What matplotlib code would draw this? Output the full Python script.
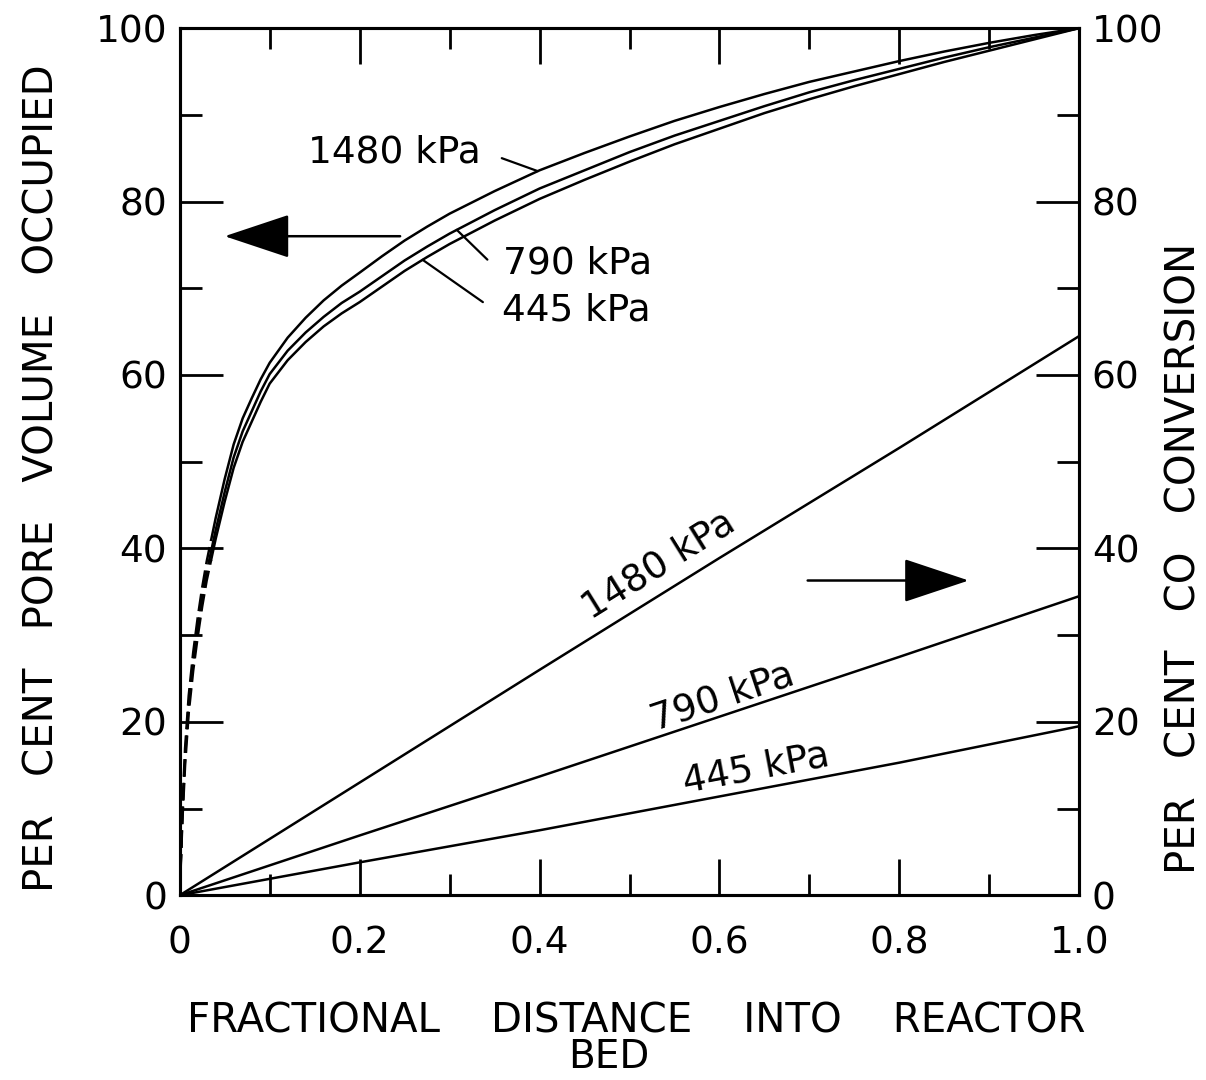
import numpy as np
import matplotlib
matplotlib.use("Agg")
import matplotlib.pyplot as plt
from matplotlib.ticker import MultipleLocator

# ---------------- data ----------------
x_pore = [0, 0.003, 0.006, 0.01, 0.015, 0.02, 0.025, 0.03, 0.035, 0.04,
          0.05, 0.06, 0.07, 0.08, 0.09, 0.1, 0.12, 0.14, 0.16, 0.18, 0.2,
          0.225, 0.25, 0.275, 0.3, 0.35, 0.4, 0.45, 0.5, 0.55, 0.6, 0.65,
          0.7, 0.75, 0.8, 0.85, 0.9, 0.95, 1.0]
pore_1480 = [0, 10, 17, 23, 28, 32, 35.5, 38.5, 41, 43.5,
             48, 52, 55, 57.3, 59.5, 61.4, 64.3, 66.6, 68.6, 70.3, 71.8,
             73.7, 75.5, 77.1, 78.6, 81.2, 83.6, 85.6, 87.5, 89.3, 90.9, 92.4,
             93.8, 95.0, 96.2, 97.3, 98.3, 99.2, 100]
pore_790 = [0, 9.3, 16, 22, 26.9, 30.8, 34.3, 37.3, 39.7, 42.1,
            46.5, 50.5, 53.5, 55.8, 58.1, 60.1, 62.8, 64.9, 66.7, 68.3, 69.6,
            71.4, 73.2, 74.8, 76.3, 79.0, 81.5, 83.6, 85.7, 87.6, 89.3, 91.0,
            92.6, 94.0, 95.3, 96.6, 97.8, 98.9, 100]
pore_445 = [0, 8.6, 15, 21, 25.9, 29.8, 33.3, 36.3, 38.7, 41.1,
            45.4, 49.3, 52.3, 54.6, 56.9, 59.0, 61.7, 63.8, 65.6, 67.1, 68.4,
            70.2, 72.0, 73.6, 75.1, 77.8, 80.3, 82.5, 84.6, 86.6, 88.4, 90.2,
            91.8, 93.3, 94.7, 96.1, 97.4, 98.7, 100]

x_conv = [0, 0.2, 0.4, 0.6, 0.8, 1.0]
conv_1480 = [0, 13.0, 26.0, 38.9, 51.6, 64.5]
conv_790 = [0, 6.9, 13.7, 20.6, 27.5, 34.5]
conv_445 = [0, 3.8, 7.5, 11.4, 15.3, 19.5]

pressures = ["1480 kPa", "790 kPa", "445 kPa"]

x_ticks = [0, 0.2, 0.4, 0.6, 0.8, 1.0]
x_ticklabels = ["0", "0.2", "0.4", "0.6", "0.8", "1.0"]
y_ticks = [0, 20, 40, 60, 80, 100]
y_ticklabels = ["0", "20", "40", "60", "80", "100"]

left_label = "PER   CENT   PORE   VOLUME   OCCUPIED"
right_label = "PER   CENT   CO   CONVERSION"
x_label_line1 = "FRACTIONAL    DISTANCE    INTO    REACTOR"
x_label_line2 = "BED"

# ---------------- figure ----------------
plt.rcParams['font.family'] = ['DejaVu Sans']
fig = plt.figure(figsize=(12.06, 10.8), dpi=100)
ax = fig.add_axes([0.149, 0.171, 0.746, 0.803])
ax2 = ax.twinx()

LW = 1.8
TICK_FS = 27
for a in (ax, ax2):
    a.set_xlim(0, 1.0)
    a.set_ylim(0, 100)
    for s in a.spines.values():
        s.set_linewidth(2.2)

# pore volume curves: dashed near origin, solid beyond
split = 8
for ys in (pore_1480, pore_790, pore_445):
    ax.plot(x_pore[:split + 1], ys[:split + 1], color='black', lw=LW,
            ls=(0, (7, 2.5)))
    ax.plot(x_pore[split:], ys[split:], color='black', lw=LW)

# CO conversion lines (right axis)
for ys in (conv_1480, conv_790, conv_445):
    ax2.plot(x_conv, ys, color='black', lw=LW)

# ticks
ax.set_xticks(x_ticks)
ax.set_xticklabels(x_ticklabels, fontsize=TICK_FS)
ax.xaxis.set_minor_locator(MultipleLocator(0.1))
ax.set_yticks(y_ticks)
ax.set_yticklabels(y_ticklabels, fontsize=TICK_FS)
ax.yaxis.set_minor_locator(MultipleLocator(10))
ax2.set_yticks(y_ticks)
ax2.set_yticklabels(y_ticklabels, fontsize=TICK_FS)
ax2.yaxis.set_minor_locator(MultipleLocator(10))

ax.tick_params(axis='x', which='both', direction='in', top=True, bottom=True,
               width=2.0, pad=22)
ax.tick_params(axis='x', which='major', length=26)
ax.tick_params(axis='x', which='minor', length=15)
ax.tick_params(axis='y', which='both', direction='in', left=True, right=False,
               width=2.0, pad=9)
ax.tick_params(axis='y', which='major', length=31)
ax.tick_params(axis='y', which='minor', length=16)
ax2.tick_params(axis='y', which='both', direction='in', right=True, left=False,
                width=2.0, pad=9)
ax2.tick_params(axis='y', which='major', length=31)
ax2.tick_params(axis='y', which='minor', length=16)

# axis labels
ax.text(-0.152, 0.481, left_label, transform=ax.transAxes, fontsize=29,
        rotation=90, ha='center', va='center')
ax2.text(1.117, 0.389, right_label, transform=ax2.transAxes, fontsize=29,
         rotation=90, ha='center', va='center')
ax.text(0.507, -0.145, x_label_line1, transform=ax.transAxes, fontsize=29,
        ha='center', va='center')
ax.text(0.477, -0.186, x_label_line2, transform=ax.transAxes, fontsize=28,
        ha='center', va='center')

# labels of pore-volume curves with leader lines
LAB_FS = 27
pore_sets = [pore_1480, pore_790, pore_445]
pore_text_pos = [(0.239, 85.6), (0.442, 72.9), (0.441, 67.4)]
leader_start = [(0.358, 85.0), (0.342, 73.3), (0.337, 68.4)]
leader_x = [0.398, 0.308, 0.270]
for lab, ys, tp, ls_, lx in zip(pressures, pore_sets, pore_text_pos,
                                 leader_start, leader_x):
    ax.text(tp[0], tp[1], lab, fontsize=LAB_FS, ha='center', va='center')
    ax.annotate('', xy=(lx, np.interp(lx, x_pore, ys)), xytext=ls_,
                arrowprops=dict(arrowstyle='-', lw=1.6, color='black',
                                shrinkA=0, shrinkB=0))

# labels along CO conversion lines
fig.canvas.draw()
conv_sets = [conv_1480, conv_790, conv_445]
conv_text_pos = [(0.533, 38.0), (0.603, 22.8), (0.641, 14.6)]
for lab, ys, tp in zip(pressures, conv_sets, conv_text_pos):
    p0 = ax2.transData.transform((x_conv[0], ys[0]))
    p1 = ax2.transData.transform((x_conv[-1], ys[-1]))
    ang = np.degrees(np.arctan2(p1[1] - p0[1], p1[0] - p0[0]))
    ax2.text(tp[0], tp[1], lab, fontsize=LAB_FS, ha='center', va='center',
             rotation=ang, rotation_mode='anchor')

# direction arrows
arrow_style = '-|>,head_length=4.2,head_width=1.4'
ax.annotate('', xy=(0.05, 76.0), xytext=(0.245, 76.0),
            arrowprops=dict(arrowstyle=arrow_style, lw=1.8, color='black',
                            shrinkA=0, shrinkB=0))
ax2.annotate('', xy=(0.877, 36.3), xytext=(0.698, 36.3),
             arrowprops=dict(arrowstyle=arrow_style, lw=1.8, color='black',
                             shrinkA=0, shrinkB=0))

fig.savefig('out.png', dpi=100, facecolor='white')
